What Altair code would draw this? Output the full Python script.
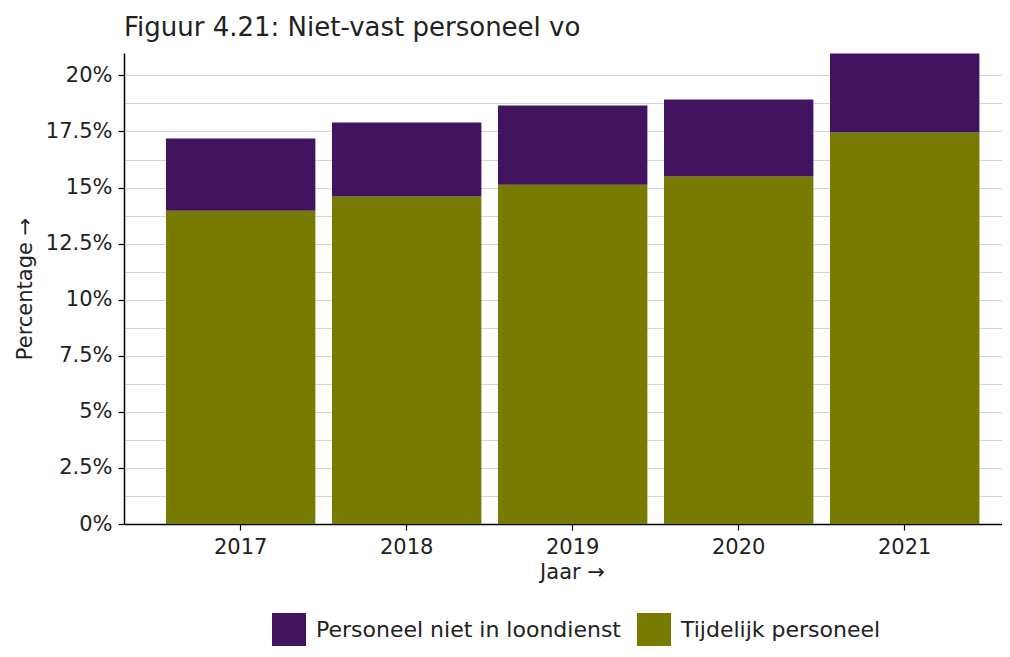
import altair as alt
import pandas as pd

jaren = ["2017", "2018", "2019", "2020", "2021"]
tijdelijk = [13.97, 14.60, 15.13, 15.49, 17.46]
niet_loondienst = [3.22, 3.30, 3.53, 3.44, 3.52]
categorieen = ["Personeel niet in loondienst", "Tijdelijk personeel"]
kleuren = ["#42145f", "#777c00"]
y_ticks = [i * 0.0125 for i in range(17)]

rows = []
for j, t, n in zip(jaren, tijdelijk, niet_loondienst):
    rows.append({"Jaar": j, "Type": categorieen[1], "Waarde": t / 100, "Volgorde": 0})
    rows.append({"Jaar": j, "Type": categorieen[0], "Waarde": n / 100, "Volgorde": 1})
df = pd.DataFrame(rows)

FONT = "DejaVu Sans"

chart = alt.Chart(df).mark_bar().encode(
    x=alt.X("Jaar:N", title="Jaar →",
            scale=alt.Scale(paddingInner=0.1, paddingOuter=0.1945, align=0.65),
            axis=alt.Axis(labelAngle=0, labelFontSize=21, titleFontSize=21,
                          labelFont=FONT, titleFont=FONT, titleFontWeight="normal",
                          labelColor="#222222", titleColor="#222222",
                          domainColor="#000000", domainWidth=1.5,
                          tickColor="#000000", tickSize=6, tickWidth=1.2,
                          labelPadding=6, titlePadding=4, grid=False, titleX=448)),
    y=alt.Y("Waarde:Q", title="Percentage →", stack="zero",
            scale=alt.Scale(domain=[0, 0.21], nice=False),
            axis=alt.Axis(values=y_ticks,
                          labelExpr="round(datum.value*80) % 2 == 0 ? format(datum.value, '.1~%') : ''",
                          labelFontSize=21, titleFontSize=21,
                          labelFont=FONT, titleFont=FONT, titleFontWeight="normal",
                          labelColor="#222222", titleColor="#222222",
                          domainColor="#000000", domainWidth=1.5,
                          tickColor="#000000", tickSize=6, tickWidth=1.2,
                          tickOpacity={"condition": {"test": "round(datum.value*80) % 2 == 0", "value": 1}, "value": 0},
                          labelPadding=6, titlePadding=10,
                          grid=True, gridColor="#d4d4d4", gridWidth=1)),
    color=alt.Color("Type:N", scale=alt.Scale(domain=categorieen, range=kleuren),
                    legend=alt.Legend(title=None, orient="none", direction="horizontal",
                                      legendX=148, legendY=560, padding=0,
                                      symbolType="square", symbolSize=1156,
                                      symbolStrokeWidth=0, symbolOpacity=1,
                                      labelFontSize=22, labelFont=FONT, labelColor="#222222",
                                      labelLimit=0, labelOffset=10, columnPadding=16)),
    order=alt.Order("Volgorde:Q"),
).properties(
    width=878,
    height=471,
    title=alt.TitleParams("Figuur 4.21: Niet-vast personeel vo", anchor="start", frame="group",
                          fontSize=26, font=FONT, fontWeight="normal",
                          color="#222222", offset=12),
    autosize=alt.AutoSizeParams(type="none"),
    padding={"left": 116, "top": 45, "right": 0, "bottom": 122},
).configure_view(stroke=None)

chart.save("out.html", embed_options={"renderer": "svg", "actions": False})
